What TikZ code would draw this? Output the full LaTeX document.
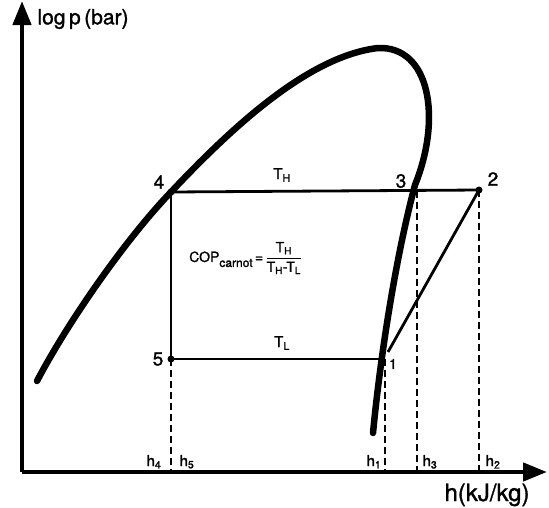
\documentclass[tikz,border=0pt]{standalone}
\usepackage{fontspec}
\setmainfont{TeX Gyre Heros}[BoldFont={TeX Gyre Heros},BoldFeatures={FakeBold=1.3}]
\usetikzlibrary{arrows.meta}
\begin{document}
\begin{tikzpicture}[x=1pt,y=-1pt,
  axis/.style={line width=4.5pt,-{Triangle[length=24pt,width=18pt]}},
  dome/.style={line width=6.5pt,line cap=round},
  cycle/.style={line width=2.8pt},
  proj/.style={line width=2.2pt,dash pattern=on 7pt off 4pt},
  pt/.style={circle,fill=black,inner sep=0pt,minimum size=7pt},
  num/.style={font=\bfseries\fontsize{19}{19}\selectfont},
  hlab/.style={font=\bfseries\fontsize{15}{15}\selectfont,anchor=base}]
\useasboundingbox (0,0) rectangle (549,507);
% axes
\coordinate (O) at (22,472);
\coordinate (ytip) at (22,1);
\coordinate (xtip) at (547,472);
\draw[axis] (O) -- (ytip);
\draw[axis] (O) -- (xtip);
\node[anchor=west,font=\bfseries\fontsize{21}{21}\selectfont] (ylab) at (34,19) {log\,p\,(bar)};
\node[anchor=base,font=\bfseries\fontsize{24}{24}\selectfont] (xlab) at (487,501) {h(kJ/kg)};
% cycle points
\node[pt] (p4) at (171,192) {};
\node[pt] (p5) at (171,359) {};
\node[pt] (p2) at (479,190) {};
\coordinate (p3) at (414,191);
\coordinate (p1) at (384,359);
\coordinate (p1d) at (388,352);
% dome
\draw[dome] (37,381) .. controls (68,322) and (125,240) .. (p4.center)
  .. controls (235,124) and (310,56) .. (378,48)
  .. controls (430,46) and (442,118) .. (415,185)
  .. controls (395,260) and (380,360) .. (373,433);
% axis feet
\coordinate (a5) at (171,472);
\coordinate (a1) at (385,472);
\coordinate (a3) at (417,472);
\coordinate (a2) at (479,472);
\coordinate (p3d) at (417,191);
\coordinate (p1e) at (385,359);
% cycle
\draw[cycle] (p4.center) -- (p2.center);
\draw[cycle] (p4.center) -- (p5.center);
\draw[cycle] (p5.center) -- (p1);
\draw[cycle] (p1d) -- (p2.center);
% projections
\draw[proj] (p5.center) -- (a5);
\draw[proj] (p1e) -- (a1);
\draw[proj] (p3d) -- (a3);
\draw[proj] (p2.center) -- (a2);
% labels
\node[num] (l4) at (159,182) {4};
\node[num] (l3) at (401,181) {3};
\node[num] (l2) at (493,179) {2};
\node[num] (l5) at (158,359) {5};
\node[font=\bfseries\fontsize{14}{14}\selectfont] (l1) at (393,364) {1};
\node[font=\bfseries\fontsize{15}{15}\selectfont] (TH) at (282,175) {T\textsubscript{H}};
\node[font=\bfseries\fontsize{15}{15}\selectfont] (TL) at (282,343) {T\textsubscript{L}};
\node[anchor=west,font=\bfseries\fontsize{14}{14}\selectfont,inner sep=0pt] (cop) at (189,258) {COP\raisebox{-5pt}{\fontsize{12}{12}\selectfont carnot}\,=\,$\displaystyle\frac{\mbox{T\textsubscript{H}}}{\mbox{T\textsubscript{H}-T\textsubscript{L}}}$};
\node[hlab] (h4) at (154,466) {h\textsubscript{4}};
\node[hlab] (h5) at (187,466) {h\textsubscript{5}};
\node[hlab] (h1) at (374,466) {h\textsubscript{1}};
\node[hlab] (h3) at (430,466) {h\textsubscript{3}};
\node[hlab] (h2) at (493,466) {h\textsubscript{2}};
\end{tikzpicture}
\end{document}
